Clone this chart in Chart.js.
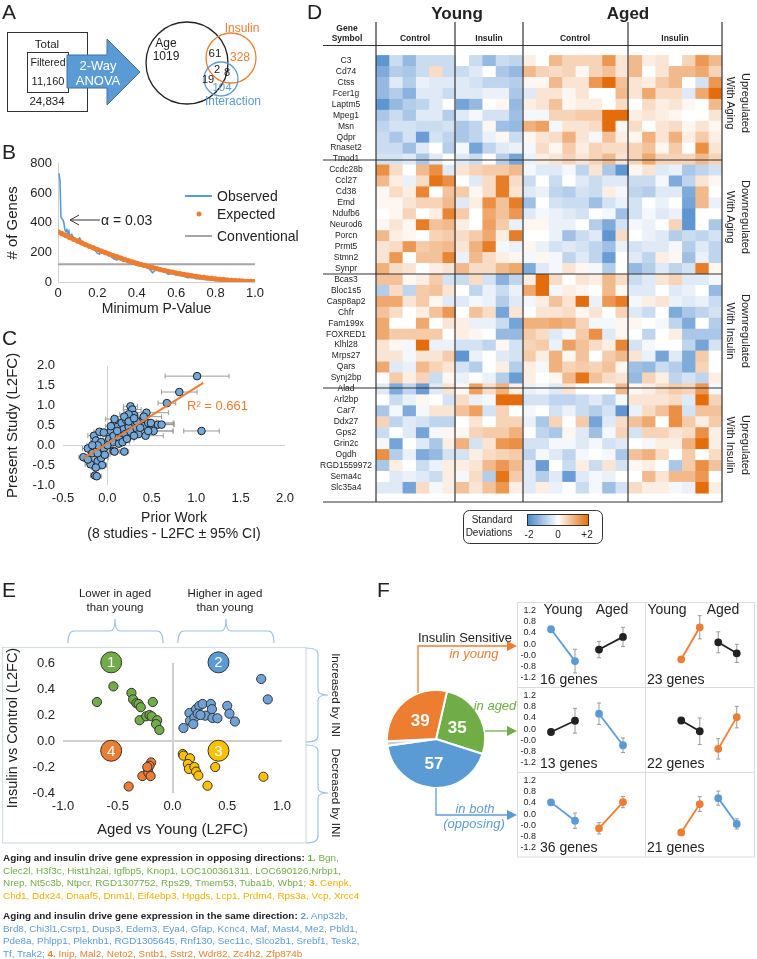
<!DOCTYPE html>
<html lang="en">
<head>
<meta charset="UTF-8">
<title>Aging and insulin - hippocampal gene expression</title>
<script src="https://cdn.jsdelivr.net/npm/chart.js"></script>
<style>
  body { margin: 0; background: #fff; font-family: "Liberation Sans", Arial, sans-serif; color: #222; }
  #page { position: relative; width: 757px; height: 959px; overflow: hidden; }
  #page canvas { position: absolute; }
  svg.overlay { position: absolute; left: 0; top: 0; pointer-events: none; }
  .genes { position: absolute; left: 3px; font-size: 9.9px; line-height: 12.7px; white-space: nowrap; }
  .g { color: #70ad47; } .y { color: #f0b000; } .b { color: #5b9bd5; } .o { color: #ed7d31; }
</style>
</head>
<body>
<div id="page">
  <canvas id="chartB" width="268" height="172" style="left:0;top:150px"></canvas>
  <canvas id="chartC" width="300" height="197" style="left:0;top:350px"></canvas>
  <canvas id="chartD" width="407" height="456" style="left:315px;top:46px"></canvas>
  <canvas id="chartE" width="300" height="203" style="left:0;top:640px"></canvas>
  <canvas id="chartPie" width="100" height="100" style="left:386px;top:689px"></canvas>
  <canvas id="f0" width="128" height="85" style="left:517px;top:602px"></canvas>
  <canvas id="f1" width="110" height="85" style="left:645px;top:602px"></canvas>
  <canvas id="f2" width="128" height="85" style="left:517px;top:687px"></canvas>
  <canvas id="f3" width="110" height="85" style="left:645px;top:687px"></canvas>
  <canvas id="f4" width="128" height="85" style="left:517px;top:772px"></canvas>
  <canvas id="f5" width="110" height="85" style="left:645px;top:772px"></canvas>

  <svg class="overlay" width="757" height="959" font-family="Liberation Sans, Arial, sans-serif" fill="#222">
    <defs>
      <linearGradient id="sdGrad" x1="0" x2="1" y1="0" y2="0">
        <stop offset="0" stop-color="#4a88cc"/><stop offset="0.5" stop-color="#ffffff"/><stop offset="1" stop-color="#e46c0a"/>
      </linearGradient>
    </defs>
    <!-- A -->
    <text x="2" y="19" font-size="21">A</text>
    <rect x="7.5" y="32.5" width="80" height="79" fill="none" stroke="#333"/>
    <rect x="27.5" y="52.5" width="41" height="40" fill="none" stroke="#333"/>
    <text x="47" y="48" font-size="11.5" text-anchor="middle">Total</text>
    <text x="48" y="66" font-size="10.5" text-anchor="middle">Filtered</text>
    <text x="48" y="85" font-size="11" text-anchor="middle">11,160</text>
    <text x="47" y="105" font-size="11.5" text-anchor="middle">24,834</text>
    <polygon points="67,55 107,55 107,39 140,72 107,105 107,88 67,88" fill="#5b9bd5" stroke="#41719c"/>
    <text x="98" y="70" font-size="13" fill="#fff" text-anchor="middle">2-Way</text>
    <text x="98" y="85" font-size="13" fill="#fff" text-anchor="middle">ANOVA</text>
    <circle cx="187" cy="63" r="41" fill="none" stroke="#222" stroke-width="1.3"/>
    <circle cx="231" cy="58" r="25" fill="none" stroke="#ed7d31" stroke-width="1.3"/>
    <circle cx="221" cy="79" r="17" fill="none" stroke="#5b9bd5" stroke-width="1.3"/>
    <text x="166" y="47" font-size="12" text-anchor="middle">Age</text>
    <text x="166" y="60" font-size="12" text-anchor="middle">1019</text>
    <text x="242" y="32" font-size="12" fill="#ed7d31" text-anchor="middle">Insulin</text>
    <text x="240" y="61" font-size="12" fill="#ed7d31" text-anchor="middle">328</text>
    <text x="215" y="57" font-size="11.5" text-anchor="middle">61</text>
    <text x="217" y="73" font-size="11" text-anchor="middle">2</text>
    <text x="227" y="76" font-size="11" text-anchor="middle">8</text>
    <text x="208" y="83" font-size="11" text-anchor="middle">19</text>
    <text x="222" y="91" font-size="11.5" fill="#5b9bd5" text-anchor="middle">104</text>
    <text x="233" y="105" font-size="12" fill="#5b9bd5" text-anchor="middle">Interaction</text>

    <!-- B -->
    <text x="2" y="159" font-size="21">B</text>
    <line x1="185" y1="196" x2="212" y2="196" stroke="#5b9bd5" stroke-width="2"/>
    <circle cx="199" cy="214" r="2.5" fill="#ed7d31"/>
    <line x1="185" y1="236" x2="212" y2="236" stroke="#a5a5a5" stroke-width="2"/>
    <text x="217" y="201" font-size="14">Observed</text>
    <text x="217" y="219" font-size="14">Expected</text>
    <text x="217" y="241" font-size="14">Conventional</text>
    <line x1="71" y1="220" x2="100" y2="220" stroke="#333"/>
    <polyline points="79,215 70,220 79,225" fill="none" stroke="#333"/>
    <text x="101" y="225" font-size="14">α = 0.03</text>

    <!-- C -->
    <text x="2" y="345" font-size="21">C</text>
    <text x="187" y="410" font-size="13" fill="#ed7d31">R² = 0.661</text>

    <!-- D -->
    <text x="307" y="19" font-size="21">D</text>
    <text x="457" y="19" font-size="17" font-weight="bold" text-anchor="middle">Young</text>
    <text x="628" y="19" font-size="17" font-weight="bold" text-anchor="middle">Aged</text>
    <text x="347" y="31" font-size="8.5" font-weight="bold" text-anchor="middle">Gene</text>
    <text x="347" y="41" font-size="8.5" font-weight="bold" text-anchor="middle">Symbol</text>
    <text x="415" y="41" font-size="8.5" font-weight="bold" text-anchor="middle">Control</text>
    <text x="489" y="41" font-size="8.5" font-weight="bold" text-anchor="middle">Insulin</text>
    <text x="575" y="41" font-size="8.5" font-weight="bold" text-anchor="middle">Control</text>
    <text x="675" y="41" font-size="8.5" font-weight="bold" text-anchor="middle">Insulin</text>
    <g stroke="#333" stroke-width="1.2">
      <line x1="323" y1="45.5" x2="722" y2="45.5"/>
      <line x1="323" y1="160" x2="722" y2="160"/>
      <line x1="323" y1="274" x2="722" y2="274"/>
      <line x1="323" y1="388" x2="722" y2="388"/>
      <line x1="323" y1="502" x2="722" y2="502"/>
      <line x1="376" y1="22" x2="376" y2="502"/>
      <line x1="455" y1="22" x2="455" y2="502"/>
      <line x1="523" y1="22" x2="523" y2="502"/>
      <line x1="628" y1="22" x2="628" y2="502"/>
      <line x1="722" y1="22" x2="722" y2="502"/>
    </g>
    <g font-size="11" text-anchor="middle">
      <text transform="translate(742,103) rotate(90)">Upregulated</text>
      <text transform="translate(727,103) rotate(90)">With Aging</text>
      <text transform="translate(742,217) rotate(90)">Downregulated</text>
      <text transform="translate(727,217) rotate(90)">With Aging</text>
      <text transform="translate(742,331) rotate(90)">Downregulated</text>
      <text transform="translate(727,331) rotate(90)">With Insulin</text>
      <text transform="translate(742,445) rotate(90)">Upregulated</text>
      <text transform="translate(727,445) rotate(90)">With Insulin</text>
    </g>
    <rect x="463.5" y="510.5" width="139" height="33" rx="6" fill="#fff" stroke="#333"/>
    <rect x="527.5" y="514.5" width="61" height="11" fill="url(#sdGrad)" stroke="#333"/>
    <text x="492" y="523" font-size="10" text-anchor="middle">Standard</text>
    <text x="489" y="536" font-size="10" text-anchor="middle">Deviations</text>
    <text x="529" y="538" font-size="10" text-anchor="middle">-2</text>
    <text x="558" y="538" font-size="10" text-anchor="middle">0</text>
    <text x="587" y="538" font-size="10" text-anchor="middle">+2</text>

    <!-- E -->
    <text x="2" y="597" font-size="21">E</text>
    <rect x="2.5" y="647.5" width="303.5" height="195.5" fill="none" stroke="#d4dce4" stroke-width="1.2"/>
    <text x="115" y="597" font-size="11.5" text-anchor="middle">Lower in aged</text>
    <text x="115" y="611" font-size="11.5" text-anchor="middle">than young</text>
    <text x="225" y="597" font-size="11.5" text-anchor="middle">Higher in aged</text>
    <text x="225" y="611" font-size="11.5" text-anchor="middle">than young</text>
    <g fill="none" stroke="#9dc3e6" stroke-width="1.2">
      <path d="M68,643 Q68,631 74,631 L110,631 Q115,631 115,619 Q115,631 120,631 L157,631 Q163,631 163,643"/>
      <path d="M178,643 Q178,631 184,631 L221,631 Q226,631 226,619 Q226,631 231,631 L268,631 Q274,631 274,643"/>
      <path d="M306,648 Q318,648 318,654 L318,690 Q318,695 328,695 Q318,695 318,700 L318,736 Q318,742 306,742"/>
      <path d="M306,745 Q318,745 318,751 L318,788 Q318,793 328,793 Q318,793 318,798 L318,836 Q318,843 306,843"/>
    </g>
    <text transform="translate(332,695) rotate(90)" font-size="11.5" text-anchor="middle">Increased by INI</text>
    <text transform="translate(332,793) rotate(90)" font-size="11.5" text-anchor="middle">Decreased by INI</text>

    <!-- F -->
    <text x="377" y="597" font-size="21">F</text>
    <g fill="none" stroke="#dcdcdc">
      <rect x="517.5" y="602.5" width="237" height="254.5"/>
      <line x1="645.5" y1="602" x2="645.5" y2="857"/>
      <line x1="517" y1="687.5" x2="755" y2="687.5"/>
      <line x1="517" y1="772.5" x2="755" y2="772.5"/>
    </g>
    <polyline points="418,693 418,646 508,646" fill="none" stroke="#ed7d31" stroke-width="1.3"/>
    <polygon points="507,641 517,646 507,651" fill="#ed7d31"/>
    <polyline points="485,731 508,731" fill="none" stroke="#70ad47" stroke-width="1.3"/>
    <polygon points="507,726 517,731 507,736" fill="#70ad47"/>
    <polyline points="436,788 436,815 508,815" fill="none" stroke="#5b9bd5" stroke-width="1.3"/>
    <polygon points="507,810 517,815 507,820" fill="#5b9bd5"/>
    <text x="418" y="642" font-size="13">Insulin Sensitive</text>
    <text x="474" y="658" font-size="13" font-style="italic" fill="#ed7d31" text-anchor="middle">in young</text>
    <text x="495" y="710" font-size="13" font-style="italic" fill="#70ad47" text-anchor="middle">in aged</text>
    <text x="475" y="813" font-size="13" font-style="italic" fill="#5b9bd5" text-anchor="middle">in both</text>
    <text x="474" y="828" font-size="13" font-style="italic" fill="#5b9bd5" text-anchor="middle">(opposing)</text>
    <g font-size="14" text-anchor="middle">
      <text x="563" y="614">Young</text><text x="612" y="614">Aged</text>
      <text x="667" y="614">Young</text><text x="723" y="614">Aged</text>
    </g>
    <g font-size="14">
      <text x="540" y="684">16 genes</text><text x="647" y="684">23 genes</text>
      <text x="540" y="768">13 genes</text><text x="647" y="768">22 genes</text>
      <text x="540" y="852">36 genes</text><text x="647" y="852">21 genes</text>
    </g>
  </svg>

  <div class="genes" style="top:852px">
    <b>Aging and insulin drive gene expression in opposing directions:</b> <span class="g"><b>1.</b> Bgn,</span><br>
    <span class="g">Clec2l, H3f3c, Hist1h2ai, Igfbp5, Knop1, LOC100361311, LOC690126,Nrbp1,</span><br>
    <span class="g">Nrep, Nt5c3b, Ntpcr, RGD1307752, Rps29, Tmem53, Tuba1b, Wbp1;</span> <span class="y"><b>3.</b> Cenpk,</span><br>
    <span class="y">Chd1, Ddx24, Dnaaf5, Dnm1l, Eif4ebp3, Hpgds, Lcp1, Prdm4, Rps3a, Vcp, Xrcc4</span>
  </div>
  <div class="genes" style="top:910px">
    <b>Aging and insulin drive gene expression in the same direction:</b> <span class="b"><b>2.</b> Anp32b,</span><br>
    <span class="b">Brd8, Chi3l1,Csrp1, Dusp3, Edem3, Eya4, Gfap, Kcnc4, Maf, Mast4, Me2, Pbld1,</span><br>
    <span class="b">Pde8a, Phlpp1, Pleknb1, RGD1305645, Rnf130, Sec11c, Slco2b1, Srebf1, Tesk2,</span><br>
    <span class="b">Tf, Trak2;</span> <span class="o"><b>4.</b> Inip, Mal2, Neto2, Sntb1, Sstr2, Wdr82, Zc4h2, Zfp874b</span>
  </div>
</div>

<script>
// ---------- data: panel B ----------
const obsP = [0.005,0.01,0.015,0.02,0.025,0.03,0.035,0.04,0.045,0.05,0.055,0.06,0.07,0.08,0.09,0.10,0.11,0.12,0.13,0.14,0.15,0.16,0.17,0.18,0.19,0.20,0.21,0.22,0.23,0.24,0.25,0.26,0.27,0.28,0.29,0.30,0.31,0.32,0.33,0.34,0.35,0.36,0.37,0.38,0.39,0.40,0.42,0.44,0.46,0.48,0.50,0.52,0.54,0.56,0.58,0.60,0.62,0.64,0.66,0.68,0.70,0.72,0.74,0.76,0.78,0.80,0.82,0.84,0.86,0.88,0.90,0.92,0.94,0.96,0.98,1.00];
const obsGenes = [735,690,440,428,420,400,352,340,355,330,345,310,322,295,285,282,298,272,262,255,250,238,230,224,212,195,188,215,205,198,190,182,172,160,152,150,162,150,140,150,135,140,128,122,120,112,108,100,95,62,88,80,70,52,58,48,45,38,30,32,22,22,18,15,12,10,8,6,5,4,3,3,2,2,1,1];
const expP = [0,0.02,0.04,0.06,0.08,0.10,0.12,0.14,0.16,0.18,0.20,0.22,0.24,0.26,0.28,0.30,0.32,0.34,0.36,0.38,0.40,0.42,0.44,0.46,0.48,0.50,0.52,0.54,0.56,0.58,0.60,0.62,0.64,0.66,0.68,0.70,0.72,0.74,0.76,0.78,0.80,0.82,0.84,0.86,0.88,0.90,0.92,0.94,0.96,0.98,1.00];
const expGenes = [340,327,314,301,289,277,265,253,242,231,220,209,199,189,179,170,161,152,143,135,127,119,112,104,97,91,84,78,72,67,61,56,51,47,42,38,34,31,27,24,21,18,16,13,11,9,8,6,5,4,3];
const conventionalGenes = 120;

// ---------- data: panel C ----------
const cPrior   = [-0.27,-0.22,-0.17,-0.15,-0.13,-0.14,-0.12,-0.19,-0.11,-0.07,-0.09,-0.04,-0.06,-0.11,-0.04,0.02,0.04,0.06,0.07,0.08,0.11,0.13,0.15,0.16,0.18,0.20,0.21,0.24,0.26,0.26,0.28,0.30,0.24,0.31,0.33,0.35,0.37,0.41,0.44,0.46,0.49,0.52,0.57,0.61,0.67,0.81,1.01,1.06,0.07,0.08,0.19,0.13,0.17,0.00,-0.03,-0.07,-0.11,-0.17,-0.13,-0.22,0.22,0.30,0.33,0.43,0.46,0.11,0.04,0.19,0.24,0.30,0.37,0.41];
const cPresent = [-0.30,-0.08,-0.20,0.24,0.12,-0.76,-0.78,-0.48,-0.40,-0.32,0.34,0.32,-0.50,-0.20,-0.08,0.16,0.36,0.08,0.24,0.66,0.46,0.20,0.32,0.56,0.40,0.28,0.64,0.46,0.34,0.98,0.90,0.76,0.78,0.56,0.42,0.28,0.60,0.48,0.82,0.56,0.56,0.36,0.52,0.52,1.06,1.34,1.74,0.36,-0.14,-0.16,-0.16,0.04,0.08,0.00,-0.24,0.08,0.00,0.00,-0.56,-0.36,0.16,0.24,0.60,0.24,0.36,0.36,0.48,0.72,0.60,0.68,0.44,0.72];
const cCI      = [0.05,0.06,0.05,0.07,0.06,0.05,0.05,0.06,0.05,0.08,0.06,0.07,0.05,0.06,0.08,0.07,0.10,0.06,0.09,0.10,0.08,0.07,0.09,0.12,0.10,0.08,0.12,0.10,0.08,0.08,0.10,0.12,0.10,0.14,0.12,0.10,0.18,0.20,0.25,0.28,0.26,0.22,0.18,0.14,0.10,0.20,0.36,0.20,0.05,0.06,0.05,0.06,0.08,0.05,0.06,0.07,0.05,0.06,0.05,0.05,0.08,0.10,0.14,0.20,0.28,0.08,0.06,0.12,0.10,0.14,0.16,0.20];
const cFit = [{ x: -0.27, y: -0.33 }, { x: 1.08, y: 1.57 }];

// ---------- data: panel D ----------
const geneSymbols = ['C3','Cd74','Ctss','Fcer1g','Laptm5','Mpeg1','Msn','Qdpr','Rnaset2','Tmod1',
  'Ccdc28b','Ccl27','Cd38','Emd','Ndufb6','Neurod6','Porcn','Prmt5','Stmn2','Synpr',
  'Bcas3','Bloc1s5','Casp8ap2','Chfr','Fam199x','FOXRED1','Klhl28','Mrps27','Qars','Synj2bp',
  'Alad','Arl2bp','Car7','Ddx27','Gps2','Grin2c','Ogdh','RGD1559972','Sema4c','Slc35a4'];
// columns: young control x6, young insulin x5, aged control x8, aged insulin x7
const upWithAging = [
  [-1.5,-0.5,-1,-0.5,-0.5,-0.5, 0,-0.5,-1,-0.5,-0.6, 0.2,0,0.8,0.5,0.5,0.5,1.2,0.3, 0.8,0.2,0.3,0,0.5,1.2,0.8],
  [-1.2,-0.7,-0.8,-0.5,0.4,-0.5, -0.5,-0.3,0,-0.8,-1, 0.8,0.5,0.4,0.5,0.1,0.5,0.7,0.3, 0.8,0,0.3,0.8,0.8,1,0.5],
  [-1,-0.3,-0.7,-0.2,-0.3,-0.3, -0.3,-0.4,-0.6,-0.6,-0.7, 0.1,0.1,0.8,0.3,0.3,1.2,1.7,0.7, 0.3,0.2,0.6,0.8,0,-0.4,1.2],
  [-1,-0.7,-1.1,-0.3,-0.3,-0.5, -0.3,-0.3,-0.2,-0.2,-0.8, -0.3,0.3,0.3,0.1,0.3,0,0,0.8, 0.3,1,0.4,0.4,-0.3,1,1.7],
  [-1.5,-1,-0.7,-0.6,-0.3,0, -1.3,-1,0,0.1,-1, 0.2,0.3,0.7,0.1,0.2,0.2,0,0.4, 0,0.4,0.2,0.3,0.1,0,0.8],
  [-0.8,-0.5,-0.8,-0.3,-0.3,-0.7, -0.3,-0.1,-0.4,-0.4,-0.9, -0.1,-0.1,0.5,0.5,0.6,0.6,1.7,1.7, 0.2,0.3,0.2,0.1,0,0,0.3],
  [-0.6,-0.4,-0.4,-0.5,-0.5,-0.4, -0.8,-0.6,0.1,-0.9,-1, 0.9,1.1,-0.1,0.3,0.3,0.4,1.7,0.1, 0.4,0,0.3,0.4,0.1,0.3,0.1],
  [-0.5,-0.8,-0.4,-1.4,-0.4,-0.6, -0.8,-0.6,-0.2,0.1,-0.5, 0.1,0.3,0.4,0.9,0.3,-0.1,0.7,0.2, 0.1,0.9,0.3,0.9,0.2,0.6,0.2],
  [-0.5,-0.5,-0.9,-0.3,0,-0.7, -0.1,-1.3,-0.6,-0.3,-0.2, -0.1,0.4,0.1,0.6,0.2,0.5,0.4,0.4, 0.5,0.7,0.1,0.6,0,1.3,0.3],
  [-0.4,-0.4,-0.3,-0.8,-0.3,0, -0.3,-0.5,0,-0.7,-1.3, -0.2,0.2,0.3,0.5,0.3,0.5,0.8,0.3, 0.5,1,0.5,0.5,0.5,0.8,0.5]
];
const downWithAging = [
  [1.3,0.4,0,0.8,1.3,-0.3, 0.3,0.5,0.6,0.6,0.8, -0.1,-0.3,-0.3,-0.1,-0.6,0.3,-0.8,-1.5, 0.1,0.3,-0.3,-0.2,-0.8,-0.6,-0.4],
  [0.8,0.2,-0.2,0.4,1.6,1.3, 0,-0.3,0.4,1.5,0.4, -0.5,0,-0.5,0,-0.3,-0.5,-0.3,-0.3, -0.5,-0.5,-0.1,-1.2,-0.6,0.3,0.1],
  [0.1,0.4,0.2,1.4,0,0.7, 0.6,0.1,0.4,1.5,0.3, -0.3,-0.2,-0.6,-0.7,-0.4,-0.5,0.2,-0.1, -0.6,-0.7,-0.3,-0.3,-1.2,0.8,0],
  [0.1,0.1,0.3,0.5,0.5,0.8, -0.3,0.2,1.3,0.7,1.5, -0.9,0,-0.4,-0.5,-0.5,-0.9,-0.4,-0.2, -0.4,0,-0.2,0,-1.3,0.8,-0.2],
  [0,0.1,0.5,0,0.2,1.4, 0.6,0,1,0.7,1.2, -0.3,-0.1,-0.2,-0.3,-0.4,0,-0.1,-0.9, -0.4,-0.1,-0.3,-0.2,-1.5,0,0],
  [0.1,0.3,0.1,1.5,0.7,0.8, 0.2,0,1.1,0.6,-0.2, 0.1,0.1,-0.2,-0.2,0,-0.7,-1.2,-0.4, -0.1,-0.2,0,0.5,-1.5,0,-0.8],
  [0.8,0.2,0.1,0,0.5,0.6, 0.4,0.6,1,0.2,1.5, 0,0,-0.2,-0.9,-0.5,-0.3,-1.5,0.4, 0,-0.2,-0.3,-0.7,-0.5,-0.6,-0.4],
  [0.3,0.4,1.2,0.6,0.7,0.8, 0.3,0.9,1.5,-0.1,-0.2, 0.1,-0.2,-0.4,-0.3,-0.4,-0.6,-0.9,-0.2, -0.4,-0.3,-0.3,-0.1,-0.7,-0.3,-0.6],
  [0.3,1.2,0,0.7,0.7,1.4, -0.2,0.8,0.4,0.2,0.1, -0.1,0.1,-0.1,-0.6,-0.3,-0.6,-1.4,0, -0.3,-0.6,0.2,0.1,-0.9,-0.2,-0.6],
  [0.9,0.4,0.3,0,0.2,0.3, 0.8,0.4,0.4,0.8,1, -1.2,-0.3,-0.1,0.3,0.1,-0.1,-0.7,0, -1,-0.7,-0.3,-0.6,-0.4,1.5,0.1]
];
const downWithInsulin = [
  [0.7,0.7,0.1,0.2,0.6,-0.4, -0.5,0.4,-0.4,-1.1,-0.6, 0.2,1.7,0.4,0,0.3,0.2,0.8,0.4, -0.5,-0.3,0.3,0.5,-0.3,-0.3,-0.1],
  [-0.7,0.4,-0.6,0.6,0.7,0.3, 0,-0.6,-0.2,-0.5,-0.2, 1,1.7,-0.1,0.2,0.1,0,0.8,0.1, -0.3,-0.3,0,-0.3,-0.2,0,-1],
  [1,1,0.3,0.6,0.1,-0.3, -0.3,-0.1,-0.2,-0.7,-0.3, -0.1,0.2,0.7,0.3,1.7,-0.2,1.2,1.5, -0.1,0.2,0.3,-0.2,-0.3,-0.2,-0.5],
  [0.7,0.4,0,0.2,0.7,1.2, 0,0.7,0.4,-1.3,0.3, 0,0.3,0.3,0.4,0.1,0.3,0,0.5, -0.3,-0.5,0,-1.2,-0.8,-0.6,-0.4],
  [1,0,0,1,0,0.3, 0.2,-0.2,-0.2,-0.5,-1.3, 0.9,0.9,1,0.9,0.5,-0.1,-0.1,0.1, 0.1,0,-0.1,-0.6,-1.2,0,-0.7],
  [1,0.6,0.6,0.6,0.6,0, 0.2,0.1,0,-1,-1, 0.6,0.4,-0.3,-0.1,0.6,1.3,-0.3,0.1, 0,-0.6,0,0.2,-0.8,-0.8,-0.8],
  [0.3,0.1,-0.1,1.7,-0.2,-0.2, -0.4,-0.4,-0.6,0.1,-0.4, 0.5,0.6,-0.2,1.1,0.7,0.4,0.2,1.4, -0.4,-0.1,0,0,-0.6,-1.3,-0.4],
  [0.3,0.3,-0.1,0.3,0.3,0.6, -1.5,-0.2,0,-0.3,-0.4, 0.6,0.2,0.9,0.1,0.7,0,0.6,0.8, 0.3,-0.2,-1.3,-0.3,-1.2,0.6,0],
  [1,-0.3,-0.2,0.8,0.5,0.3, -0.4,-0.7,0,0.2,-0.7, 0.2,-0.1,0.9,0.5,0.6,0.5,0.7,0.1, -0.9,-1,-0.5,-0.7,-1.2,0.5,0],
  [0,0.6,0.2,0.5,-0.5,0.1, -0.2,0,-0.2,-0.7,-1.4, 0.2,0,0.1,0.8,1.6,0.7,0.4,0.3, -1,0.5,0.2,-0.6,-0.4,-0.6,0.2]
];
const upWithInsulin = [
  [-0.3,-1.2,-0.6,-1.4,-0.3,0.3, 0.1,1.1,0.4,0.9,0.2, -0.2,-0.1,-0.3,0.3,0,0,0,0.8, 0.1,0.2,0.4,0.6,0.5,1.2,-0.1],
  [0,-0.5,-0.2,0.1,0,-0.4, 0.4,-0.2,-0.1,1.7,1.7, -0.4,-0.4,-0.6,-0.6,-0.5,-0.3,-0.6,-0.1, 0.3,0.3,0.3,0.4,-0.3,1.8,0.5],
  [-0.8,-0.1,-1.2,-0.1,0.3,0.3, 0.7,1.1,-0.4,0.5,0, -0.1,0,-0.4,-0.2,-0.5,-0.7,-0.4,-1.5, -0.2,0.4,0.7,1.3,-0.4,0.7,0.7],
  [0.5,-0.6,-0.3,-0.4,-0.6,-0.6, 0,0.3,0,0.5,0.5, -0.2,-0.8,0.5,0,0.6,-1.3,-0.3,0.4, 0.7,1,0,1.3,0.6,0.2,0.6],
  [-0.5,0,-0.3,-1.3,-0.1,0.1, 0.1,0.5,0.6,0.6,0.9, 0,-0.6,-0.8,0.1,-0.3,-0.9,-0.1,0.5, -0.4,0.5,0.5,0.3,0.4,1.3,0.2],
  [-0.1,-1.3,0,-0.3,-0.8,0.2, 0.9,-0.4,0.3,1.2,1.3, -0.4,-0.4,-0.1,-0.1,-0.3,-0.1,-0.4,-0.3, 0,-0.1,0.2,0.2,0.9,1.7,0.2],
  [1.3,-0.7,-0.2,-1.2,-1,-0.4, -0.4,0.2,0.4,0.5,0.6, -0.6,-0.1,-0.3,-0.6,-0.1,0,-0.1,-0.8, 0.7,0.9,0.4,0,0.6,0,0.4],
  [-0.8,0.2,0,-0.5,-0.2,0.2, 0.2,0.3,0.8,1.2,0.8, -0.3,-1.4,0,-0.5,0.2,-0.5,0.3,-0.4, 0.1,0.2,0,-0.8,0.6,1.3,0.7],
  [0,-0.3,-0.2,-0.3,-0.5,0.2, -0.1,0.4,-0.7,1.6,0.6, -0.3,-0.7,-0.3,-1.4,-0.3,-0.1,-0.2,0, 0,0.8,0.3,0.8,0.8,1.2,0],
  [-0.3,-0.3,-1.3,0.4,-0.1,0.2, 0.7,0.3,0.7,1.2,0.2, -0.3,0.2,-0.2,0,-0.5,-0.1,-0.9,-0.4, 0.4,0.2,0.2,-0.1,-0.2,1.7,0.2]
];

// ---------- data: panel E (Aged vs Young, Insulin vs Control) ----------
const q1Aged = [-0.69,-0.54,-0.375,-0.36,-0.33,-0.31,-0.29,-0.30,-0.24,-0.21,-0.18,-0.19,-0.14,-0.15,-0.12];
const q1Ins  = [0.30,0.42,0.37,0.32,0.29,0.285,0.26,0.16,0.19,0.20,0.30,0.19,0.16,0.13,0.085];
const q2Aged = [0.10,0.155,0.16,0.20,0.19,0.215,0.245,0.275,0.23,0.30,0.255,0.35,0.36,0.365,0.41,0.50,0.52,0.57,0.81,0.87];
const q2Ins  = [0.10,0.215,0.155,0.18,0.13,0.245,0.27,0.285,0.21,0.195,0.20,0.285,0.245,0.177,0.175,0.27,0.21,0.15,0.477,0.32];
const q3Aged = [0.094,0.10,0.16,0.14,0.15,0.20,0.215,0.236,0.32,0.39,0.83];
const q3Ins  = [-0.10,-0.113,-0.133,-0.177,-0.215,-0.20,-0.236,-0.266,-0.344,-0.20,-0.275];
const q4Aged = [-0.40,-0.275,-0.225,-0.22,-0.20,-0.195,-0.21,-0.23];
const q4Ins  = [-0.35,-0.27,-0.215,-0.245,-0.27,-0.165,-0.19,-0.20];
const quadrantBadges = [
  { x: -0.56, y: 0.605, label: '1' }, { x: 0.42, y: 0.605, label: '2' },
  { x: 0.42, y: -0.075, label: '3' }, { x: -0.56, y: -0.075, label: '4' }
];

// ---------- data: panel F ----------
const pieLabels = ['in aged', 'in both (opposing)', 'other', 'in young'];
const pieCounts = [35, 57, 2, 39];
const fTickLabels = ['-1.2', '-0.8', '-0.0', '0.0', '0.4', '0.8', '1.2'];
// per cell: young control, young insulin | aged control, aged insulin
const fYoung    = [[0.53, -0.60], [-0.54, 0.59], [-0.10, 0.30], [0.30, -0.08], [0.42, -0.23], [-0.65, 0.35]];
const fYoungErr = [[0.10, 0.42], [0.08, 0.41], [0.05, 0.44], [0.05, 0.47], [0.04, 0.27], [0.10, 0.26]];
const fAged     = [[-0.19, 0.26], [0.06, -0.33], [0.55, -0.57], [-0.70, 0.42], [-0.50, 0.43], [0.56, -0.35]];
const fAgedErr  = [[0.29, 0.34], [0.37, 0.32], [0.38, 0.26], [0.36, 0.38], [0.20, 0.20], [0.25, 0.18]];
const fYoungColor = ['#5b9bd5', '#ed7d31', '#222', '#222', '#5b9bd5', '#ed7d31'];
const fAgedColor  = ['#222', '#222', '#5b9bd5', '#ed7d31', '#ed7d31', '#5b9bd5'];

// ---------- shared ----------
Chart.defaults.font.family = '"Liberation Sans", Arial, sans-serif';
Chart.defaults.color = '#222';
Chart.defaults.animation = false;
Chart.defaults.plugins.legend.display = false;
Chart.defaults.plugins.tooltip.enabled = false;

const BLUE = '#5b9bd5', ORANGE = '#ed7d31', GREEN = '#70ad47', YELLOW = '#ffc000';

// draws whiskers from dataset.errX / dataset.errY through the scales
const errorBars = {
  id: 'errorBars',
  beforeDatasetsDraw(chart) {
    const { ctx, scales: { x, y } } = chart;
    chart.data.datasets.forEach((ds, di) => {
      if (!ds.errX && !ds.errY) return;
      const meta = chart.getDatasetMeta(di);
      ctx.save();
      ctx.strokeStyle = ds.errColor || '#9a9a9a';
      ctx.lineWidth = 1;
      meta.data.forEach((pt, i) => {
        const d = ds.data[i];
        ctx.beginPath();
        if (ds.errX) {
          const x0 = x.getPixelForValue(d.x - ds.errX[i]), x1 = x.getPixelForValue(d.x + ds.errX[i]);
          ctx.moveTo(x0, pt.y); ctx.lineTo(x1, pt.y);
          ctx.moveTo(x0, pt.y - 2.5); ctx.lineTo(x0, pt.y + 2.5);
          ctx.moveTo(x1, pt.y - 2.5); ctx.lineTo(x1, pt.y + 2.5);
        }
        if (ds.errY) {
          const y0 = y.getPixelForValue(d.y - ds.errY[i]), y1 = y.getPixelForValue(d.y + ds.errY[i]);
          ctx.moveTo(pt.x, y0); ctx.lineTo(pt.x, y1);
          ctx.moveTo(pt.x - 2, y0); ctx.lineTo(pt.x + 2, y0);
          ctx.moveTo(pt.x - 2, y1); ctx.lineTo(pt.x + 2, y1);
        }
        ctx.stroke();
      });
      ctx.restore();
    });
  }
};

// text labels on points / arcs (dataset.pointLabels)
const pointLabels = {
  id: 'pointLabels',
  afterDatasetsDraw(chart) {
    const ctx = chart.ctx;
    chart.data.datasets.forEach((ds, di) => {
      if (!ds.pointLabels) return;
      ctx.save();
      ctx.fillStyle = '#fff';
      ctx.font = ds.labelFont || '15px "Liberation Sans", Arial';
      ctx.textAlign = 'center';
      ctx.textBaseline = 'middle';
      chart.getDatasetMeta(di).data.forEach((el, i) => {
        const lab = ds.pointLabels[i];
        if (!lab) return;
        const p = el.tooltipPosition ? el.tooltipPosition() : el;
        ctx.fillText(lab, p.x, p.y + 1);
      });
      ctx.restore();
    });
  }
};

function zeroLine(c) { return Math.abs(c.tick.value) < 1e-9 ? '#d0d0d0' : 'rgba(0,0,0,0)'; }
function oneDec(v) { return Math.abs(v) < 1e-9 ? '0.0' : Number(v).toFixed(1); }

// ---------- B ----------
new Chart(document.getElementById('chartB'), {
  type: 'scatter',
  data: {
    datasets: [
      { data: expP.map((p, i) => ({ x: p, y: expGenes[i] })), showLine: true, borderColor: ORANGE,
        backgroundColor: ORANGE, borderWidth: 4.5, pointRadius: 2.6, pointBorderWidth: 0, order: 0 },
      { data: obsP.map((p, i) => ({ x: p, y: obsGenes[i] })), showLine: true, borderColor: BLUE,
        borderWidth: 1.6, pointRadius: 0, order: 1 },
      { data: [{ x: 0, y: conventionalGenes }, { x: 1, y: conventionalGenes }], showLine: true,
        borderColor: '#a5a5a5', borderWidth: 2, pointRadius: 0, order: 2 }
    ]
  },
  options: {
    responsive: false,
    layout: { padding: { top: 10, right: 6 } },
    scales: {
      x: { min: 0, max: 1, ticks: { stepSize: 0.2, font: { size: 13 }, padding: 4 },
           grid: { display: false, drawTicks: false }, border: { color: '#d0d0d0' },
           title: { display: true, text: 'Minimum P-Value', font: { size: 14 }, padding: { top: 2 } },
           afterFit: s => { s.height = 40; } },
      y: { min: 0, max: 800, ticks: { stepSize: 200, font: { size: 13 }, padding: 6 },
           grid: { display: false, drawTicks: false }, border: { color: '#d0d0d0' },
           title: { display: true, text: '# of Genes', font: { size: 15 }, padding: { bottom: 2 } },
           afterFit: s => { s.width = 58; } }
    }
  }
});

// ---------- C ----------
new Chart(document.getElementById('chartC'), {
  type: 'scatter',
  data: {
    datasets: [
      { data: cFit, showLine: true, borderColor: ORANGE, borderWidth: 2, pointRadius: 0, order: 0 },
      { data: cPrior.map((x, i) => ({ x, y: cPresent[i] })), errX: cCI, backgroundColor: '#71a9dd',
        borderColor: '#222', borderWidth: 1, pointRadius: 3.8, order: 1 }
    ]
  },
  options: {
    responsive: false,
    layout: { padding: { top: 10, right: 12 } },
    scales: {
      x: { min: -0.5, max: 2.0, ticks: { stepSize: 0.5, callback: oneDec, font: { size: 13 }, padding: 6 },
           grid: { color: zeroLine, drawTicks: false }, border: { display: false },
           title: { display: true, text: ['Prior Work', '(8 studies - L2FC ± 95% CI)'], font: { size: 14 }, padding: { top: 2 } },
           afterFit: s => { s.height = 62; } },
      y: { min: -1, max: 2, ticks: { stepSize: 0.5, callback: oneDec, font: { size: 13 }, padding: 8 },
           grid: { color: zeroLine, drawTicks: false }, border: { display: false },
           title: { display: true, text: 'Present Study (L2FC)', font: { size: 15 }, padding: { bottom: 2 } },
           afterFit: s => { s.width = 63; } }
    }
  },
  plugins: [errorBars]
});

// ---------- D heatmap ----------
const heatRows = [].concat(upWithAging, downWithAging, downWithInsulin, upWithInsulin);
const heatCells = [];
heatRows.forEach((row, r) => row.forEach((v, c) => heatCells.push({ x: c, y: r, v })));

function heatColor(v) {
  const t = Math.max(-1, Math.min(1, v / 1.7));
  const c = t < 0 ? [74, 136, 204] : [228, 108, 10];
  const a = Math.abs(t);
  const mix = k => Math.round(255 + (c[k] - 255) * a);
  return `rgb(${mix(0)},${mix(1)},${mix(2)})`;
}

const heatPlugin = {
  id: 'heatPlugin',
  beforeDatasetsDraw(chart) {
    const { ctx, scales: { x, y } } = chart;
    chart.data.datasets[0].data.forEach(c => {
      const x0 = x.getPixelForValue(c.x - 0.5), x1 = x.getPixelForValue(c.x + 0.5);
      const y0 = y.getPixelForValue(c.y - 0.5), y1 = y.getPixelForValue(c.y + 0.5);
      ctx.fillStyle = heatColor(c.v);
      ctx.fillRect(Math.min(x0, x1), Math.min(y0, y1), Math.abs(x1 - x0) + 0.6, Math.abs(y1 - y0) + 0.6);
    });
  }
};

new Chart(document.getElementById('chartD'), {
  type: 'scatter',
  data: { datasets: [{ data: heatCells, pointRadius: 0 }] },
  options: {
    responsive: false,
    layout: { padding: 0 },
    scales: {
      x: { display: false, min: -0.5, max: 25.5 },
      y: { min: -0.5, max: 39.5, reverse: true,
           afterBuildTicks: s => { s.ticks = geneSymbols.map((g, i) => ({ value: i })); },
           afterFit: s => { s.width = 61; },
           ticks: { autoSkip: false, font: { size: 8.5 }, crossAlign: 'center', padding: 4, color: '#222',
                    callback: v => geneSymbols[v] },
           grid: { display: false, drawTicks: false }, border: { display: false } }
    }
  },
  plugins: [heatPlugin]
});

// ---------- E ----------
const pt = (xs, ys) => xs.map((x, i) => ({ x, y: ys[i] }));
const eDot = { borderColor: '#333', borderWidth: 1, pointRadius: 4.6 };
new Chart(document.getElementById('chartE'), {
  type: 'scatter',
  data: {
    datasets: [
      { data: quadrantBadges, pointLabels: quadrantBadges.map(b => b.label),
        backgroundColor: [GREEN, BLUE, YELLOW, ORANGE], borderColor: '#333', borderWidth: 1, pointRadius: 10.5, clip: false },
      { data: pt(q1Aged, q1Ins), backgroundColor: GREEN, ...eDot },
      { data: pt(q2Aged, q2Ins), backgroundColor: '#6fa3d8', ...eDot },
      { data: pt(q3Aged, q3Ins), backgroundColor: YELLOW, ...eDot },
      { data: pt(q4Aged, q4Ins), backgroundColor: ORANGE, ...eDot }
    ]
  },
  options: {
    responsive: false,
    layout: { padding: { top: 23, right: 18 } },
    scales: {
      x: { min: -1, max: 1, ticks: { stepSize: 0.5, callback: oneDec, font: { size: 13 }, padding: 6 },
           grid: { color: zeroLine, lineWidth: 2, drawTicks: false }, border: { display: false },
           title: { display: true, text: 'Aged vs Young (L2FC)', font: { size: 15 }, padding: { top: 0 } },
           afterFit: s => { s.height = 50; } },
      y: { min: -0.4, max: 0.6, ticks: { stepSize: 0.2, callback: oneDec, font: { size: 13 }, padding: 8 },
           grid: { color: zeroLine, lineWidth: 2, drawTicks: false }, border: { display: false },
           title: { display: true, text: 'Insulin vs Control (L2FC)', font: { size: 14.5 }, padding: { bottom: 0 } },
           afterFit: s => { s.width = 63; } }
    }
  },
  plugins: [pointLabels]
});

// ---------- F pie ----------
new Chart(document.getElementById('chartPie'), {
  type: 'pie',
  data: {
    labels: pieLabels,
    datasets: [{ data: pieCounts, backgroundColor: [GREEN, BLUE, '#c9c9c9', ORANGE],
                 borderColor: '#fff', borderWidth: 2,
                 pointLabels: pieCounts.map(v => v > 5 ? String(v) : ''),
                 labelFont: 'bold 17px "Liberation Sans", Arial' }]
  },
  options: { responsive: false, rotation: 13, layout: { padding: 0 } },
  plugins: [pointLabels]
});

// ---------- F small line panels ----------
fYoung.forEach((yv, i) => {
  const leftCol = i % 2 === 0;
  new Chart(document.getElementById('f' + i), {
    type: 'scatter',
    data: {
      datasets: [
        { data: [{ x: 0, y: yv[0] }, { x: 1, y: yv[1] }], errY: fYoungErr[i], showLine: true,
          borderColor: fYoungColor[i], backgroundColor: fYoungColor[i], borderWidth: 1.8, pointRadius: 3 },
        { data: [{ x: 2, y: fAged[i][0] }, { x: 3, y: fAged[i][1] }], errY: fAgedErr[i], showLine: true,
          borderColor: fAgedColor[i], backgroundColor: fAgedColor[i], borderWidth: 1.8, pointRadius: 3 }
      ]
    },
    options: {
      responsive: false,
      layout: { padding: leftCol ? { top: 8, bottom: 9, right: 10 } : { top: 8, bottom: 9, left: 5, right: 9 } },
      scales: {
        x: { display: false, min: -0.5, max: 3.5 },
        y: { display: leftCol, min: -1.2, max: 1.2,
             afterBuildTicks: s => { s.ticks = [-1.2, -0.8, -0.4, 0, 0.4, 0.8, 1.2].map(v => ({ value: v })); },
             ticks: { autoSkip: false, font: { size: 9 }, padding: 3, callback: (v, idx) => fTickLabels[idx] },
             grid: { display: false, drawTicks: false }, border: { display: false },
             afterFit: s => { s.width = 22; } }
      }
    },
    plugins: [errorBars]
  });
});
</script>
</body>
</html>
